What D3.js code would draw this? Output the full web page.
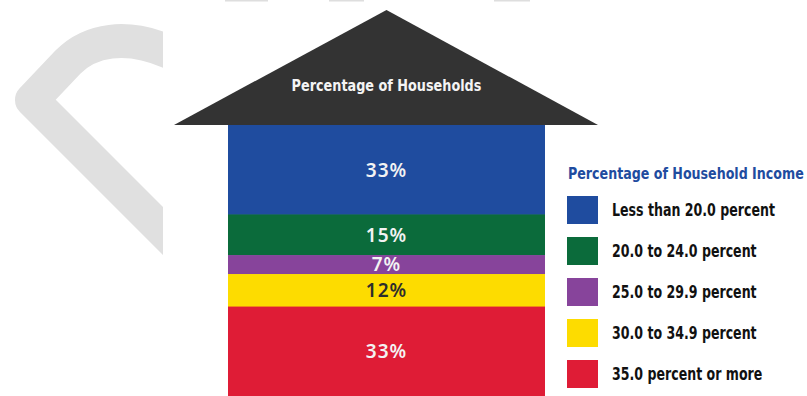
<!DOCTYPE html>
<html><head><meta charset="utf-8">
<script src="https://cdn.jsdelivr.net/npm/d3@7"></script>
<style>
html,body{margin:0;padding:0;background:#fff;}
svg{display:block;}
.cond{font-family:"Liberation Sans Narrow","DejaVu Sans Condensed","Roboto",sans-serif;font-weight:bold;}
.pct{font-family:"Noto Sans","Open Sans",sans-serif;font-weight:600;}
</style></head>
<body><svg id="c" width="807" height="396"></svg>
<script>
const categories = ["Less than 20.0 percent","20.0 to 24.0 percent","25.0 to 29.9 percent","30.0 to 34.9 percent","35.0 percent or more"];
const values = [33, 15, 7, 12, 33];
const labels = ["33%", "15%", "7%", "12%", "33%"];
const colors = ["#1f4c9f", "#0b6b3b", "#87449b", "#fddc00", "#df1c36"];
const labelColors = ["#f3f3f3", "#f3f3f3", "#f3f3f3", "#2d2d2d", "#f3f3f3"];
const roofTitle = "Percentage of Households";
const legendTitle = "Percentage of Household Income";

const svg = d3.select("#c");

// decorative light-gray marks
svg.append("defs").append("clipPath").attr("id","clipL")
  .append("rect").attr("x",0).attr("y",0).attr("width",163).attr("height",396);
svg.append("path")
  .attr("clip-path","url(#clipL)")
  .attr("d","M 210 278 L 32 100 L 68 62 C 88 42, 125 30, 178 56")
  .attr("fill","none").attr("stroke","#e0e0e0").attr("stroke-width",34)
  .attr("stroke-linejoin","round");
[[225,268],[329,364],[494,530]].forEach(([a,b]) => {
  svg.append("rect").attr("x",a).attr("y",0).attr("width",b-a).attr("height",1.5).attr("fill","#dedede");
});

// scales
const y = d3.scaleLinear().domain([0, d3.sum(values)]).range([125, 396]);
const x = d3.scaleBand().domain(["households"]).range([228, 545]).padding(0);
const ends = d3.cumsum(values);
const bands = values.map((v,i) => ({v, i, y0: ends[i]-v, y1: ends[i]}));

// roof
const cx = x("households") + x.bandwidth()/2;
svg.append("path")
  .attr("d", d3.line()([[174,125],[cx,10],[598,125]]) + "Z")
  .attr("fill","#333333");
const rt = svg.append("g");
const rtx = rt.append("text").attr("class","cond")
  .attr("text-anchor","middle")
  .attr("font-size",16).attr("fill","#f4f4f4")
  .text(roofTitle);
const rk = 190 / rtx.node().getComputedTextLength();
rt.attr("transform", `translate(${cx},91) scale(${rk},1)`);

// bands
svg.selectAll("rect.band").data(bands).join("rect").attr("class","band")
  .attr("x", x("households")).attr("width", x.bandwidth())
  .attr("y", d => y(d.y0)).attr("height", d => y(d.y1) - y(d.y0) + 0.5)
  .attr("fill", d => colors[d.i]);
svg.selectAll("text.pct").data(bands).join("text").attr("class","pct")
  .attr("x", cx).attr("y", d => (y(d.y0)+y(d.y1))/2)
  .attr("dy","0.36em").attr("text-anchor","middle")
  .attr("font-size",19).attr("letter-spacing",1)
  .attr("fill", d => labelColors[d.i])
  .text(d => labels[d.i]);

// legend
const lg = svg.append("g");
const ltg = lg.append("g");
const lt = ltg.append("text").attr("class","cond")
  .attr("font-size",16).attr("fill","#1f4c9f")
  .text(legendTitle);
const tk = 236 / lt.node().getComputedTextLength();
ltg.attr("transform", `translate(568,179) scale(${tk},1)`);

const ly = d3.scaleBand().domain(categories).range([196, 401]).paddingInner(0);
const items = lg.selectAll("g.item").data(categories).join("g").attr("class","item")
  .attr("transform", d => `translate(567,${ly(d)})`);
items.append("rect").attr("width",31).attr("height",28)
  .attr("fill", (d,i) => colors[i]);
const tg = items.append("g");
const itxt = tg.append("text").attr("class","cond")
  .attr("dy","0.36em")
  .attr("font-size",17).attr("fill","#111")
  .text(d => d);
// uniform horizontal compression so the longest label matches the reference width
const k = 163 / itxt.nodes()[0].getComputedTextLength();
tg.attr("transform", `translate(45,14) scale(${k},1)`);
</script></body></html>
